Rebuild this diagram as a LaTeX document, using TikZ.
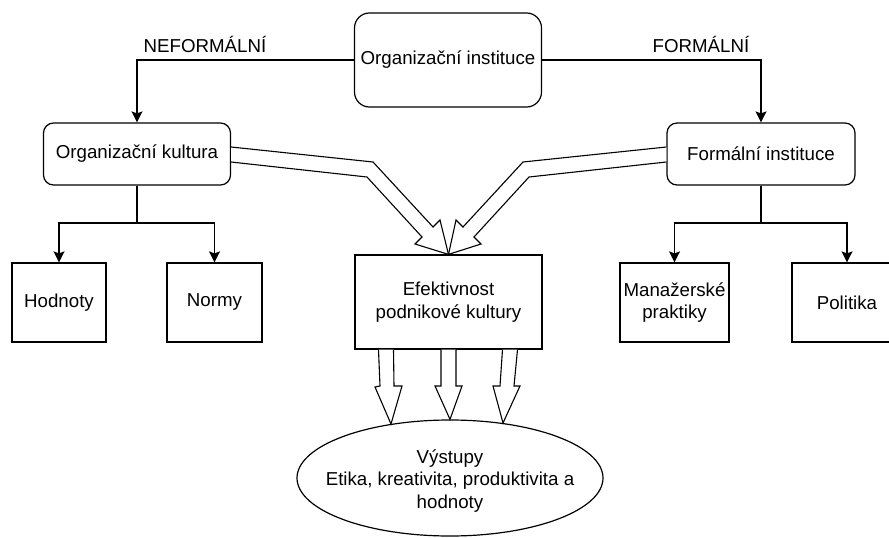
\documentclass[tikz,border=0pt]{standalone}
\usepackage{fontspec}
\setmainfont{Liberation Sans}
\usetikzlibrary{arrows.meta,shapes.geometric}

\begin{document}
\begin{tikzpicture}[x=1pt,y=-1pt,line width=1.2pt,
  font=\fontsize{18.7}{22.5}\selectfont,
  box/.style={draw,inner sep=0pt,align=center},
  rbox/.style={box,rounded corners=10pt},
  conn/.style={-{Stealth[length=11pt,width=11pt,inset=2pt]}},
  fat/.style={line width=1.1pt,fill=white,line join=miter}]
  \useasboundingbox (0,0) rectangle (889,538);
  \node[rbox,rounded corners=15pt,minimum width=187pt,minimum height=94pt] (inst) at (448,60) {Organizační instituce};
  \node[rbox,minimum width=187pt,minimum height=62pt] (kult) at (137,154) {Organizační kultura};
  \node[rbox,minimum width=188pt,minimum height=62pt] (form) at (761,154) {Formální instituce};
  \node[box,minimum width=94pt,minimum height=79pt] (hod) at (59,302.5) {Hodnoty};
  \node[box,minimum width=95pt,minimum height=79pt] (norm) at (214.5,302.5) {Normy};
  \node[box,minimum width=187pt,minimum height=94pt] (eff) at (448.5,302) {Efektivnost\\podnikové kultury};
  \node[box,minimum width=109pt,minimum height=79pt] (man) at (674.5,302.5) {Manažerské\\praktiky};
  \node[box,minimum width=110pt,minimum height=79pt] (pol) at (847,302.5) {Politika};
  \node[draw,ellipse,minimum width=306pt,minimum height=116pt] (out) at (450,478) {};
  \node[align=center] (outtxt) at (450,481) {Výstupy\\Etika, kreativita, produktivita a\\hodnoty};

  \node (neform) at (205,44) {NEFORMÁLNÍ};
  \node (formlbl) at (701,44) {FORMÁLNÍ};
  \draw[conn] (inst.west) -| (kult.north);
  \draw[conn] (inst.east) -| (form.north);

  \draw (kult.south) -- (137,223) coordinate (kjoin);
  \draw[conn] (kjoin) -| (hod.north);
  \draw[conn] (kjoin) -| (norm.north);
  \draw (form.south) -- (761,223) coordinate (fjoin);
  \draw[conn] (fjoin) -| (man.north);
  \draw[conn] (fjoin) -| (pol.north);

  \draw[fat] ([yshift=7pt]kult.east) -- (373,162) -- (433,227) -- (440,220) -- (eff.north)
    -- (415,244) -- (422,237) -- (367,177) -- ([yshift=-8pt]kult.east);
  \draw[fat] ([yshift=7pt]form.west) -- (523,162) -- (463,227) -- (456,220) -- (eff.north)
    -- (481,244) -- (474,237) -- (529,177) -- ([yshift=-8pt]form.west);

  \draw[fat] ([xshift=-70pt]eff.south) -- (380,386) -- (375,387) -- (391,424)
    -- (402,386) -- (394,386) -- ([xshift=-55pt]eff.south);
  \draw[fat] ([xshift=-7.5pt]eff.south) -- (441,386) -- (435,386) -- (out.north)
    -- (462,386) -- (456,386) -- ([xshift=7.5pt]eff.south);
  \draw[fat] ([xshift=54pt]eff.south) -- (500,386) -- (493,386) -- (503,423)
    -- (520,386) -- (514,386) -- ([xshift=69pt]eff.south);
\end{tikzpicture}
\end{document}
